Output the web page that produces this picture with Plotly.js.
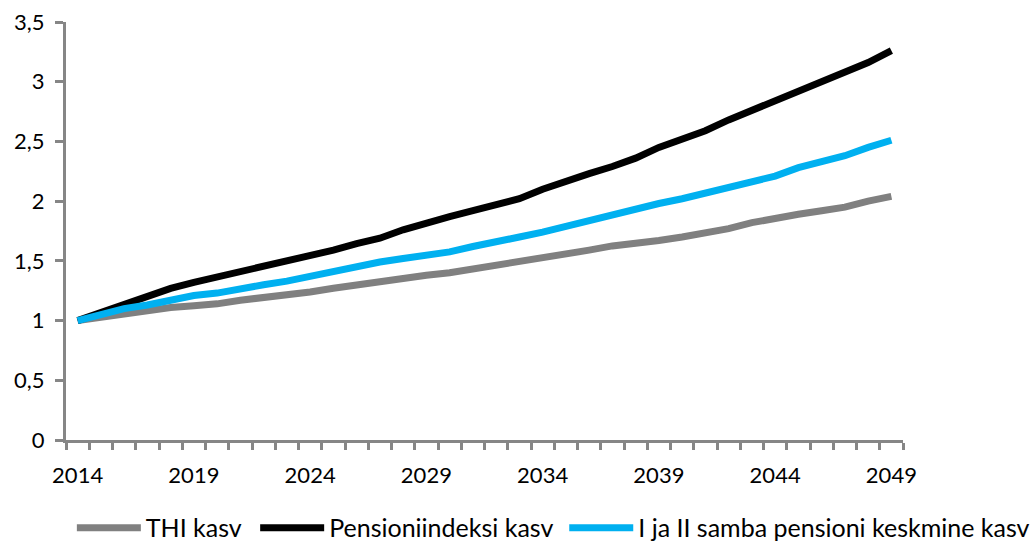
<!DOCTYPE html>
<html>
<head>
<meta charset="utf-8">
<script src="https://cdn.plot.ly/plotly-3.0.1.min.js"></script>
<style>
html,body{margin:0;padding:0;background:#fff;}
#chart{width:1032px;height:544px;}
</style>
</head>
<body>
<div id="chart"></div>
<script>
var years = [];
for (var yr = 2014; yr <= 2049; yr++) years.push(yr);

var seriesNames = ['THI kasv', 'Pensioniindeksi kasv', 'I ja II samba pensioni keskmine kasv'];

var thiKasv = [1.00, 1.03, 1.06, 1.08, 1.11, 1.125, 1.14, 1.17, 1.19, 1.21,
  1.24, 1.27, 1.30, 1.32, 1.35, 1.38, 1.40, 1.43, 1.46, 1.49,
  1.52, 1.56, 1.59, 1.625, 1.645, 1.67, 1.70, 1.735, 1.77, 1.82,
  1.86, 1.89, 1.92, 1.95, 2.00, 2.04];

var pensioniindeksiKasv = [1.00, 1.07, 1.14, 1.21, 1.27, 1.32, 1.365, 1.405, 1.445, 1.49,
  1.53, 1.59, 1.645, 1.69, 1.76, 1.82, 1.87, 1.92, 1.97, 2.02,
  2.10, 2.17, 2.23, 2.29, 2.36, 2.45, 2.52, 2.59, 2.68, 2.76,
  2.84, 2.91, 2.99, 3.07, 3.16, 3.26];

var sambaKasv = [1.00, 1.05, 1.10, 1.13, 1.17, 1.21, 1.23, 1.27, 1.30, 1.33,
  1.37, 1.42, 1.46, 1.49, 1.52, 1.55, 1.575, 1.62, 1.665, 1.70,
  1.74, 1.79, 1.84, 1.875, 1.93, 1.98, 2.02, 2.065, 2.11, 2.16,
  2.21, 2.28, 2.33, 2.38, 2.45, 2.51];

var xTickVals = [2014, 2019, 2024, 2029, 2034, 2039, 2044, 2049];
var xTickText = ['2014', '2019', '2024', '2029', '2034', '2039', '2044', '2049'];
var yTickVals = [0, 0.5, 1, 1.5, 2, 2.5, 3, 3.5];
var yTickText = ['0', '0,5', '1', '1,5', '2', '2,5', '3', '3,5'];

var colors = ['#808080', '#000000', '#00B0F0'];
var legendIds = ['legend', 'legend2', 'legend3'];
var axisColor = '#868686';
var fontFamily = 'Lato, "Open Sans", sans-serif';

var allSeries = [thiKasv, pensioniindeksiKasv, sambaKasv];
var traces = allSeries.map(function (vals, i) {
  return {
    x: years,
    y: vals,
    name: seriesNames[i],
    legend: legendIds[i],
    type: 'scatter',
    mode: 'lines',
    line: {color: colors[i], width: 7}
  };
});

function legendBox(x, xanchor) {
  return {
    orientation: 'h',
    x: x,
    xanchor: xanchor,
    y: -0.2105,
    yanchor: 'middle',
    itemwidth: 64,
    font: {family: fontFamily, size: 25, color: '#000000'},
    bgcolor: 'rgba(0,0,0,0)'
  };
}

var layout = {
  width: 1032,
  height: 544,
  margin: {l: 66, r: 129, t: 22, b: 104, autoexpand: false},
  paper_bgcolor: '#ffffff',
  plot_bgcolor: '#ffffff',
  font: {family: fontFamily, size: 22, color: '#000000'},
  showlegend: true,
  legend: legendBox(0.007, 'left'),
  legend2: legendBox(0.226, 'left'),
  legend3: legendBox(1.158, 'right'),
  xaxis: {
    type: 'linear',
    range: [2013.5, 2049.5],
    tickmode: 'array',
    tickvals: xTickVals,
    ticktext: xTickText,
    ticks: '',
    ticklabelstandoff: 14,
    showline: true,
    linecolor: axisColor,
    linewidth: 3,
    showgrid: false,
    zeroline: false,
    minor: {
      tick0: 2013.5,
      dtick: 1,
      ticks: 'outside',
      ticklen: 7,
      tickwidth: 3,
      tickcolor: axisColor,
      showgrid: false
    },
    tickfont: {family: fontFamily, size: 22, color: '#000000'}
  },
  yaxis: {
    range: [0, 3.5],
    tickmode: 'array',
    tickvals: yTickVals,
    ticktext: yTickText,
    ticks: 'outside',
    ticklen: 8,
    tickwidth: 3,
    tickcolor: axisColor,
    showline: true,
    linecolor: axisColor,
    linewidth: 3,
    showgrid: false,
    zeroline: false,
    ticklabelstandoff: 6,
    tickfont: {family: fontFamily, size: 22, color: '#000000'}
  }
};

Plotly.newPlot('chart', traces, layout, {displayModeBar: false, staticPlot: true});
</script>
</body>
</html>
